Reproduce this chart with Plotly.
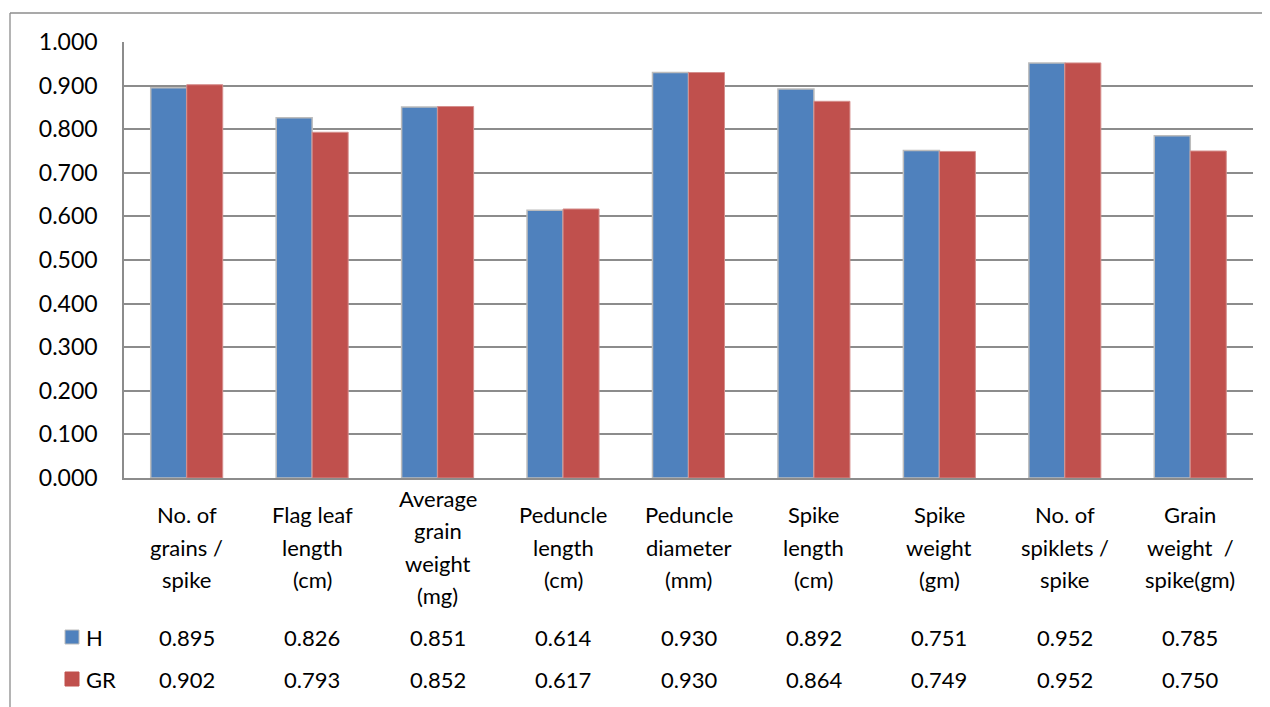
import plotly.graph_objects as go

categories = [
    "No. of<br>grains /<br>spike",
    "Flag leaf<br>length<br>(cm)",
    "Average<br>grain<br>weight<br>(mg)",
    "Peduncle<br>length<br>(cm)",
    "Peduncle<br>diameter<br>(mm)",
    "Spike<br>length<br>(cm)",
    "Spike<br>weight<br>(gm)",
    "No. of<br>spiklets /<br>spike",
    "Grain<br>weight  /<br>spike(gm)",
]
series_names = ["H", "GR"]
h_values = [0.895, 0.826, 0.851, 0.614, 0.930, 0.892, 0.751, 0.952, 0.785]
gr_values = [0.902, 0.793, 0.852, 0.617, 0.930, 0.864, 0.749, 0.952, 0.750]
y_ticks = [0.0, 0.1, 0.2, 0.3, 0.4, 0.5, 0.6, 0.7, 0.8, 0.9, 1.0]

OFF = 8  # page body margin
W, H = 1270 - OFF, 707 - OFF
# plot area in page pixels: x 124..1253, y 42..478
L, R, T, B = 124 - OFF, 1270 - 1253, 42 - OFF, 707 - 478
pw, ph = W - L - R, H - T - B

def px_x(p):
    return (p - OFF - L) / pw

def px_y(p):
    return (H - B - (p - OFF)) / ph

FONT = "Lato, Calibri, Carlito, sans-serif"
FS = 22
BLUE = "#4F81BD"
RED = "#C0504D"
LINE_SP = 32.3

xs = list(range(len(categories)))
fig = go.Figure()
fig.add_trace(go.Bar(x=xs, y=h_values, name=series_names[0],
                     marker=dict(color=BLUE, line=dict(color="#BCBCBC", width=1.5))))
fig.add_trace(go.Bar(x=xs, y=gr_values, name=series_names[1],
                     marker=dict(color=RED, line=dict(color="#D58E8C", width=1))))

tf = dict(family=FONT, size=FS, color="#000")
annotations = []
for i, c in enumerate(categories):
    lines = c.split("<br>")
    n = len(lines)
    for k, ln in enumerate(lines):
        yc = 547 + (k - (n - 1) / 2) * LINE_SP
        annotations.append(dict(x=i, y=px_y(yc), xref="x", yref="paper", text=ln,
                                showarrow=False, yanchor="middle", xanchor="center",
                                font=tf))
    annotations.append(dict(x=i, y=px_y(637), xref="x", yref="paper",
                            text=f"{h_values[i]:.3f}", showarrow=False,
                            yanchor="middle", font=tf))
    annotations.append(dict(x=i, y=px_y(679), xref="x", yref="paper",
                            text=f"{gr_values[i]:.3f}", showarrow=False,
                            yanchor="middle", font=tf))

for name, row_y in zip(series_names, [637, 679]):
    annotations.append(dict(x=px_x(84), y=px_y(row_y), xref="paper", yref="paper",
                            text=name, showarrow=False, xanchor="left", yanchor="middle",
                            font=tf))

shapes = [
    dict(type="line", xref="paper", yref="paper", x0=px_x(10), x1=px_x(1275),
         y0=px_y(13), y1=px_y(13), line=dict(color="#8C8C8C", width=1.3)),
    dict(type="line", xref="paper", yref="paper", x0=px_x(10), x1=px_x(10),
         y0=px_y(13), y1=px_y(712), line=dict(color="#8C8C8C", width=1.3)),
]
for col, row_y, lc in [(BLUE, 637, "#BCBCBC"), (RED, 679, RED)]:
    shapes.append(dict(type="rect", xref="paper", yref="paper",
                       x0=px_x(65), x1=px_x(79), y0=px_y(row_y - 7), y1=px_y(row_y + 7),
                       fillcolor=col, line=dict(color=lc, width=1)))

fig.update_layout(
    width=W, height=H,
    margin=dict(l=L, r=R, t=T, b=B, pad=0),
    paper_bgcolor="white", plot_bgcolor="white",
    barmode="group", bargap=0.426, bargroupgap=0,
    showlegend=False,
    font=tf,
    xaxis=dict(range=[-0.5, len(categories) - 0.5], showticklabels=False,
               showgrid=False, zeroline=False, showline=True,
               linecolor="#8C8C8C", linewidth=1.5, ticks="", fixedrange=True),
    yaxis=dict(range=[0, 1.0], tickvals=y_ticks,
               ticktext=[f"{v:.3f}" for v in y_ticks],
               showgrid=True, gridcolor="#8C8C8C", gridwidth=1.5,
               zeroline=False, showline=True, linecolor="#8C8C8C", linewidth=1.5,
               ticks="", ticklabelstandoff=20,
               tickfont=dict(family=FONT, size=23, color="#000"), fixedrange=True),
    annotations=annotations, shapes=shapes,
)

fig.write_html("out.html")
